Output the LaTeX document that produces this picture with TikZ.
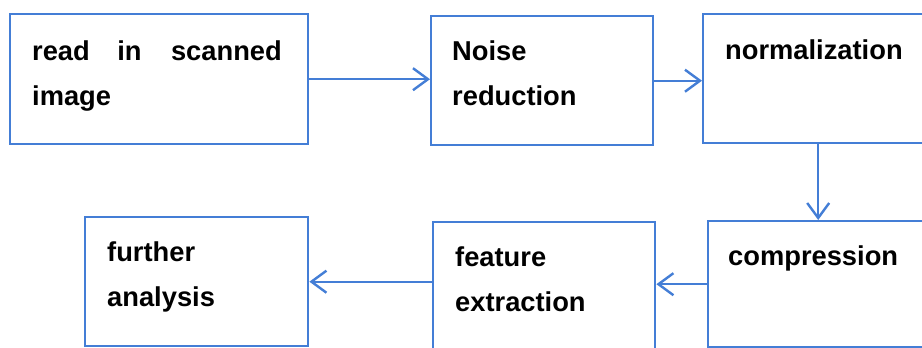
\documentclass[tikz,border=0pt]{standalone}
\usepackage{fontspec}
\setmainfont{Liberation Sans}
\usetikzlibrary{arrows.meta}
\definecolor{boxblue}{RGB}{68,126,214}
\tikzset{
  box/.style={draw=boxblue, line width=2.4pt, rectangle, anchor=north west, inner sep=0pt},
  conn/.style={draw=boxblue, line width=2.4pt, -{Straight Barb[length=15pt,width=22pt,line width=2.4pt]}},
  lbl/.style={anchor=base west, inner sep=0pt, font=\fontsize{27.3pt}{45pt}\selectfont\bfseries, text=black}
}
\begin{document}
\begin{tikzpicture}[x=1pt,y=-1pt]
\useasboundingbox (0,0) rectangle (922,348);
\clip (0,0) rectangle (922,348);
\fill[white] (0,0) rectangle (922,348);
% boxes
\node[box, minimum width=298pt, minimum height=130pt] (A) at (9,13) {};
\node[box, minimum width=222pt, minimum height=129pt] (B) at (430,15) {};
\node[box, minimum width=230pt, minimum height=129pt] (C) at (702,13) {};
\node[box, minimum width=220pt, minimum height=126pt] (D) at (707,220) {};
\node[box, minimum width=222pt, minimum height=140pt] (E) at (432,221) {};
\node[box, minimum width=223pt, minimum height=129pt] (F) at (84,216) {};
% texts
\node[lbl] (ta1) at (32,60) {read};
\node[lbl, anchor=base] (ta2) at (129.5,60) {in};
\node[lbl, anchor=base east] (ta3) at (282,60) {scanned};
\node[lbl] (ta4) at (32,105) {image};
\node[lbl] (tb1) at (452,60) {Noise};
\node[lbl] (tb2) at (452,105) {reduction};
\node[lbl] (tc1) at (725,59) {normalization};
\node[lbl] (td1) at (728,265) {compression};
\node[lbl] (te1) at (455,266) {feature};
\node[lbl] (te2) at (455,311) {extraction};
\node[lbl] (tf1) at (107,261) {further};
\node[lbl] (tf2) at (107,306) {analysis};
% connectors
\draw[conn] (A.east) -- (A.east -| B.west);
\draw[conn] (B.east) -- (B.east -| C.west);
\draw[conn] (C.south) -- (D.north);
\draw[conn] (D.west) -- (D.west -| E.east);
\draw[conn] (F.east -| E.west) -- (F.east);
\end{tikzpicture}
\end{document}
